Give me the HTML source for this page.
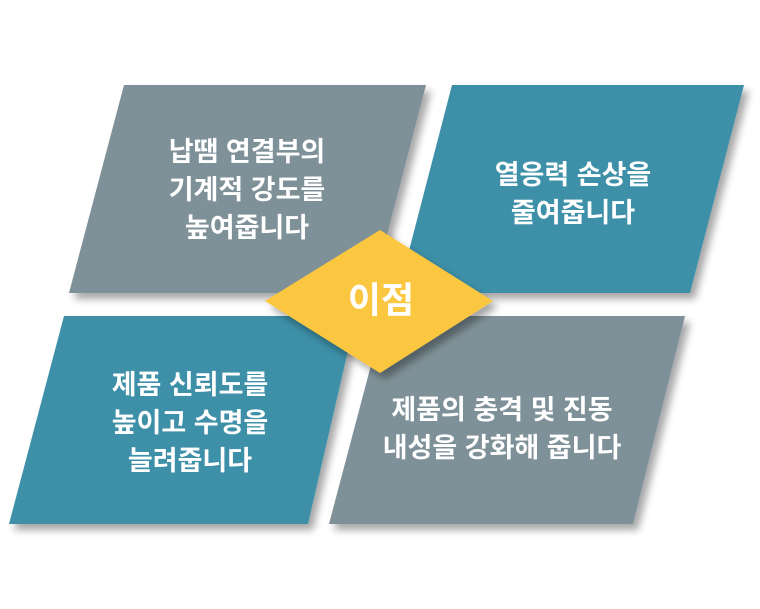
<!DOCTYPE html>
<html><head><meta charset="utf-8"><style>
html,body{margin:0;padding:0;background:#fff;}
svg{display:block;}
text{font-family:"Liberation Sans","Noto Sans CJK KR",sans-serif;font-weight:bold;fill:#fff;text-anchor:middle;dominant-baseline:central;}
</style></head><body>
<svg width="760" height="609" viewBox="0 0 760 609" xmlns="http://www.w3.org/2000/svg">
<defs>
<filter id="sh" x="-10%" y="-10%" width="130%" height="130%">
<feGaussianBlur in="SourceAlpha" stdDeviation="4"/>
<feOffset dx="5" dy="6" result="b"/>
<feComponentTransfer><feFuncA type="linear" slope="0.35"/></feComponentTransfer>
<feMerge><feMergeNode/><feMergeNode in="SourceGraphic"/></feMerge>
</filter>
</defs>
<polygon points="124,85 426,85 372,293 69,293" fill="#7f9198" filter="url(#sh)"/>
<polygon points="452,85 744,85 690,293 398,293" fill="#3e90a8" filter="url(#sh)"/>
<polygon points="64,316 356,316 308,524 9,524" fill="#3e90a8" filter="url(#sh)"/>
<polygon points="384,316 685,316 633,524 329,524" fill="#7f9198" filter="url(#sh)"/>
<polygon points="380,230 493,301 380,373 265,301" fill="#fcc73f" filter="url(#sh)"/>
<g font-size="27">
<text x="247" y="152">납땜 연결부의</text>
<text x="247" y="190">기계적 강도를</text>
<text x="247" y="228">높여줍니다</text>
<text x="573" y="175">열응력 손상을</text>
<text x="573" y="213">줄여줍니다</text>
<text x="190" y="385">제품 신뢰도를</text>
<text x="190" y="423">높이고 수명을</text>
<text x="190" y="461">늘려줍니다</text>
<text x="502" y="410">제품의 충격 및 진동</text>
<text x="502" y="448">내성을 강화해 줍니다</text>
</g>
<text x="381" y="300" font-size="36">이점</text>
</svg>
</body></html>
